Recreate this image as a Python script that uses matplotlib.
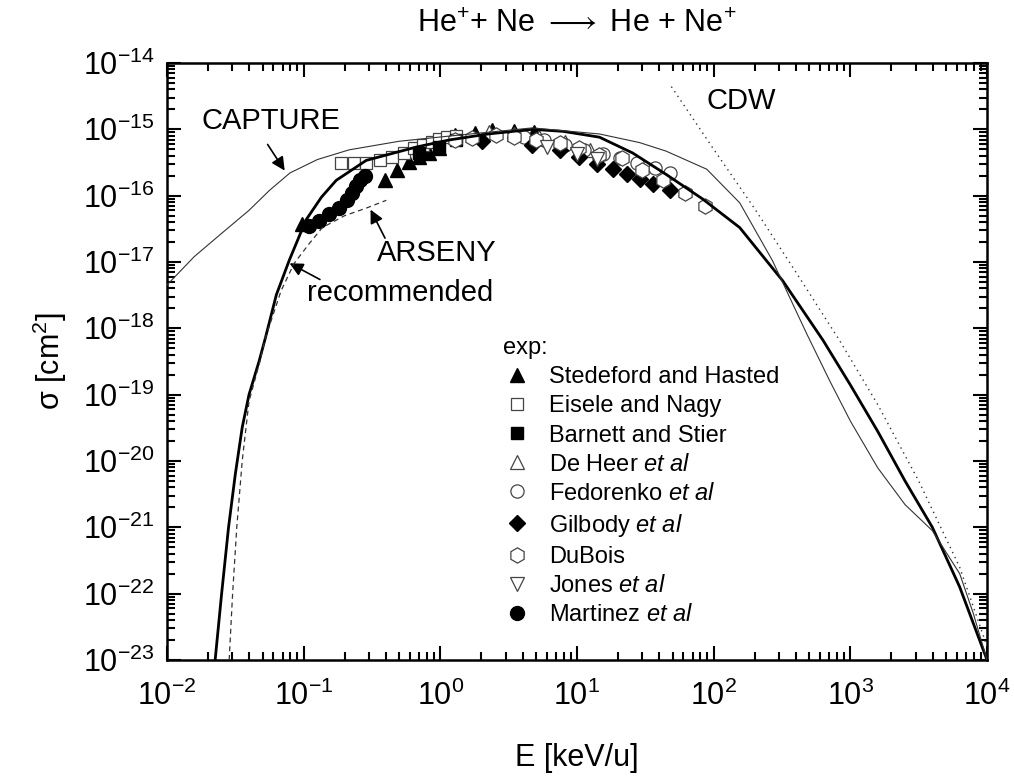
import matplotlib.pyplot as plt

plt.rcParams['font.family'] = ['Liberation Sans', 'DejaVu Sans']
plt.rcParams['mathtext.fontset'] = 'custom'
plt.rcParams['mathtext.rm'] = 'Liberation Sans'
plt.rcParams['mathtext.it'] = 'Liberation Sans:italic'
plt.rcParams['mathtext.bf'] = 'Liberation Sans:bold'

# theory curves (E in keV/u, sigma in cm^2)
rec_E = [0.0225, 0.0251, 0.0282, 0.0316, 0.0355, 0.0398, 0.0472, 0.0525, 0.0631, 0.0783,
         0.104, 0.135, 0.173, 0.287, 0.667, 1.16, 2.24, 4.72, 7.94, 14.6, 25.5,
         44.7, 83.0, 155, 320, 631, 1000, 1585, 2512, 3981, 6310, 10000]
rec_sig = [1.0e-23, 1.0e-22, 1.0e-21, 6.3e-21, 3.2e-20, 1.0e-19, 3.2e-19, 7.2e-19, 3.2e-18, 1.05e-17,
           4.3e-17, 9.5e-17, 1.7e-16, 3.4e-16, 5.4e-16, 6.9e-16, 8.5e-16, 1.0e-15, 9.3e-16, 7.6e-16, 4.4e-16,
           2.1e-16, 8.9e-17, 3.3e-17, 5.2e-18, 6.6e-19, 1.4e-19, 2.8e-20, 5.0e-21, 1.0e-21, 1.26e-22, 1.0e-23]

cap_E = [0.01, 0.0158, 0.0251, 0.0398, 0.0562, 0.0794, 0.126, 0.215, 0.5, 1.16, 4.72,
         14.6, 28.7, 44.7, 89, 155, 269, 479, 708, 1000, 1585, 2512, 3981, 6310, 7943, 10000]
cap_sig = [4.5e-18, 1.2e-17, 2.7e-17, 6.0e-17, 1.2e-16, 2.2e-16, 3.5e-16, 4.9e-16, 6.6e-16, 7.9e-16, 1.05e-15,
           8.5e-16, 6.3e-16, 4.7e-16, 2.5e-16, 7.8e-17, 1.05e-17, 8.3e-19, 1.6e-19, 4.0e-20, 7.9e-21, 2.2e-21, 8.9e-22, 2.0e-22, 5.0e-23, 1.0e-23]

cdw_E = [49, 100, 200, 398, 832, 1585, 3162, 6310, 10000]
cdw_sig = [4.4e-15, 5.0e-16, 6.3e-17, 7.1e-18, 6.6e-19, 7.1e-20, 5.0e-21, 2.5e-22, 1.6e-23]

ars_E = [0.0285, 0.0302, 0.0324, 0.0355, 0.0398, 0.0479, 0.0525, 0.0684, 0.0851, 0.11,
         0.137, 0.2, 0.288, 0.402]
ars_sig = [1.0e-23, 1.0e-22, 1.0e-21, 1.0e-20, 7.9e-20, 3.2e-19, 7.2e-19, 3.7e-18, 9.5e-18, 1.9e-17,
           3.3e-17, 5.0e-17, 6.5e-17, 8.5e-17]

# experiments
sted_E = [0.0975, 0.395, 0.484, 0.593, 0.702, 0.830, 0.984, 1.27, 1.78, 2.40, 3.48, 4.88]
sted_sig = [3.8e-17, 1.7e-16, 2.4e-16, 3.2e-16, 3.8e-16, 4.4e-16, 5.2e-16, 8.1e-16, 8.7e-16, 9.7e-16, 9.4e-16, 9.1e-16]

eis_E = [0.188, 0.234, 0.287, 0.363, 0.445, 0.544, 0.645, 0.75, 0.873, 0.98, 1.12, 1.3]
eis_sig = [3.1e-16, 3.1e-16, 3.1e-16, 3.4e-16, 3.8e-16, 4.4e-16, 5.2e-16, 5.8e-16, 6.4e-16, 7.1e-16, 7.6e-16, 8.0e-16]

barn_E = [0.7, 0.98, 1.3]
barn_sig = [4.4e-16, 5.5e-16, 7.0e-16]

heer_E = [2.28, 3.48, 5.31, 8.10, 12.4]
heer_sig = [9.1e-16, 8.5e-16, 7.7e-16, 6.4e-16, 4.9e-16]

fed_E = [4.12, 5.78, 8.10, 11.3, 15.4, 20.5, 27.3, 37.0, 47.6]
fed_sig = [7.7e-16, 6.9e-16, 5.8e-16, 4.9e-16, 4.2e-16, 3.7e-16, 3.1e-16, 2.6e-16, 2.2e-16]

gil_E = [2.03, 4.72, 7.45, 10.4, 13.9, 18.2, 23.1, 28.7, 35.7, 47.6]
gil_sig = [6.6e-16, 5.7e-16, 4.9e-16, 3.8e-16, 2.96e-16, 2.5e-16, 2.1e-16, 1.77e-16, 1.49e-16, 1.2e-16]

dub_E = [1.27, 1.71, 2.57, 3.48, 5.05, 7.45, 10.4, 14.6, 21.2, 29.7, 42.3, 61.3, 85.9]
dub_sig = [6.9e-16, 7.4e-16, 8.2e-16, 7.7e-16, 6.9e-16, 6.2e-16, 5.2e-16, 4.1e-16, 3.7e-16, 2.4e-16, 1.7e-16, 1.09e-16, 6.9e-17]

jon_E = [6.0, 10.0, 14.0]
jon_sig = [5.5e-16, 4.2e-16, 3.6e-16]

mart_E = [0.110, 0.130, 0.154, 0.182, 0.208, 0.227, 0.243, 0.260, 0.283]
mart_sig = [3.5e-17, 4.1e-17, 5.2e-17, 6.6e-17, 8.5e-17, 1.09e-16, 1.39e-16, 1.7e-16, 2.0e-16]

x_ticks = [1e-2, 1e-1, 1e0, 1e1, 1e2, 1e3, 1e4]
y_ticks = [10.0 ** p for p in range(-23, -13)]

fig = plt.figure(figsize=(10.14, 7.83), dpi=100)
ax = fig.add_axes([0.1647, 0.1571, 0.8087, 0.7625])

ax.plot(rec_E, rec_sig, color='black', lw=2.0, zorder=4)
ax.plot(cap_E, cap_sig, color='#333333', lw=0.8, zorder=4)
ax.plot(cdw_E, cdw_sig, color='#333333', lw=1.0, ls=(0, (1, 3)), zorder=4)
ax.plot(ars_E, ars_sig, color='#333333', lw=0.9, ls=(0, (4, 3)), zorder=4)

open_kw = dict(ls='none', mfc='white', mec='#444444', mew=0.9)
full_kw = dict(ls='none', color='black')
h = []
h += ax.plot(sted_E, sted_sig, '^', ms=10, label='Stedeford and Hasted', **full_kw)
h += ax.plot(eis_E, eis_sig, 's', ms=9, label='Eisele and Nagy', **open_kw)
h += ax.plot(barn_E, barn_sig, 's', ms=8, label='Barnett and Stier', **full_kw)
h += ax.plot(heer_E, heer_sig, '^', ms=10, label=r'De Heer $\it{et\ al}$', **open_kw)
h += ax.plot(fed_E, fed_sig, 'o', ms=9.5, label=r'Fedorenko $\it{et\ al}$', **open_kw)
h += ax.plot(gil_E, gil_sig, 'D', ms=8.5, label=r'Gilbody $\it{et\ al}$', **full_kw)
h += ax.plot(dub_E, dub_sig, 'h', ms=11, label='DuBois', **open_kw)
h += ax.plot(jon_E, jon_sig, 'v', ms=10, label=r'Jones $\it{et\ al}$', **open_kw)
h += ax.plot(mart_E, mart_sig, 'o', ms=10, label=r'Martinez $\it{et\ al}$', **full_kw)

ax.set_xscale('log')
ax.set_yscale('log')
ax.set_xticks(x_ticks)
ax.set_yticks(y_ticks)
ax.set_xlim(1e-2, 1e4)
ax.set_ylim(1e-23, 1e-14)

ax.tick_params(which='both', direction='in', top=True, right=True, labelsize=22, width=1.5)
ax.tick_params(which='major', length=10)
ax.tick_params(which='minor', length=5.5)
ax.tick_params(axis='x', which='major', pad=15)
ax.tick_params(axis='y', which='major', pad=9)
for s in ax.spines.values():
    s.set_linewidth(1.8)

ax.set_xlabel('E [keV/u]', fontsize=22, labelpad=22)
ax.set_ylabel(r'σ [cm$^2$]', fontsize=22, labelpad=10)
ax.set_title(r'He$^{+}$+ Ne $\longrightarrow$ He + Ne$^{+}$', fontsize=22, pad=22)

arr = dict(arrowstyle='-|>', color='black', lw=1.2, mutation_scale=20)
ax.text(0.0578, 1.33e-15, 'CAPTURE', fontsize=21, ha='center', va='center')
ax.annotate('', xy=(0.0745, 2.2e-16), xytext=(0.0531, 6.4e-16), arrowprops=arr)
ax.text(0.935, 1.35e-17, 'ARSENY', fontsize=21, ha='center', va='center')
ax.annotate('', xy=(0.302, 6.7e-17), xytext=(0.402, 2.1e-17), arrowprops=arr)
ax.text(0.509, 3.4e-18, 'recommended', fontsize=21, ha='center', va='center')
ax.annotate('', xy=(0.0757, 1.0e-17), xytext=(0.137, 5.2e-18), arrowprops=arr)
ax.text(158, 2.67e-15, 'CDW', fontsize=21, ha='center', va='center')

leg = ax.legend(handles=h, loc='upper left', bbox_to_anchor=(482 / 1014, 1 - 316 / 783),
                bbox_transform=fig.transFigure, frameon=False, fontsize=17,
                title='exp:', title_fontsize=17, alignment='left', labelspacing=0.3,
                handlelength=1.2, handletextpad=0.75, markerscale=1.0)

fig.savefig('out.png', dpi=100)
